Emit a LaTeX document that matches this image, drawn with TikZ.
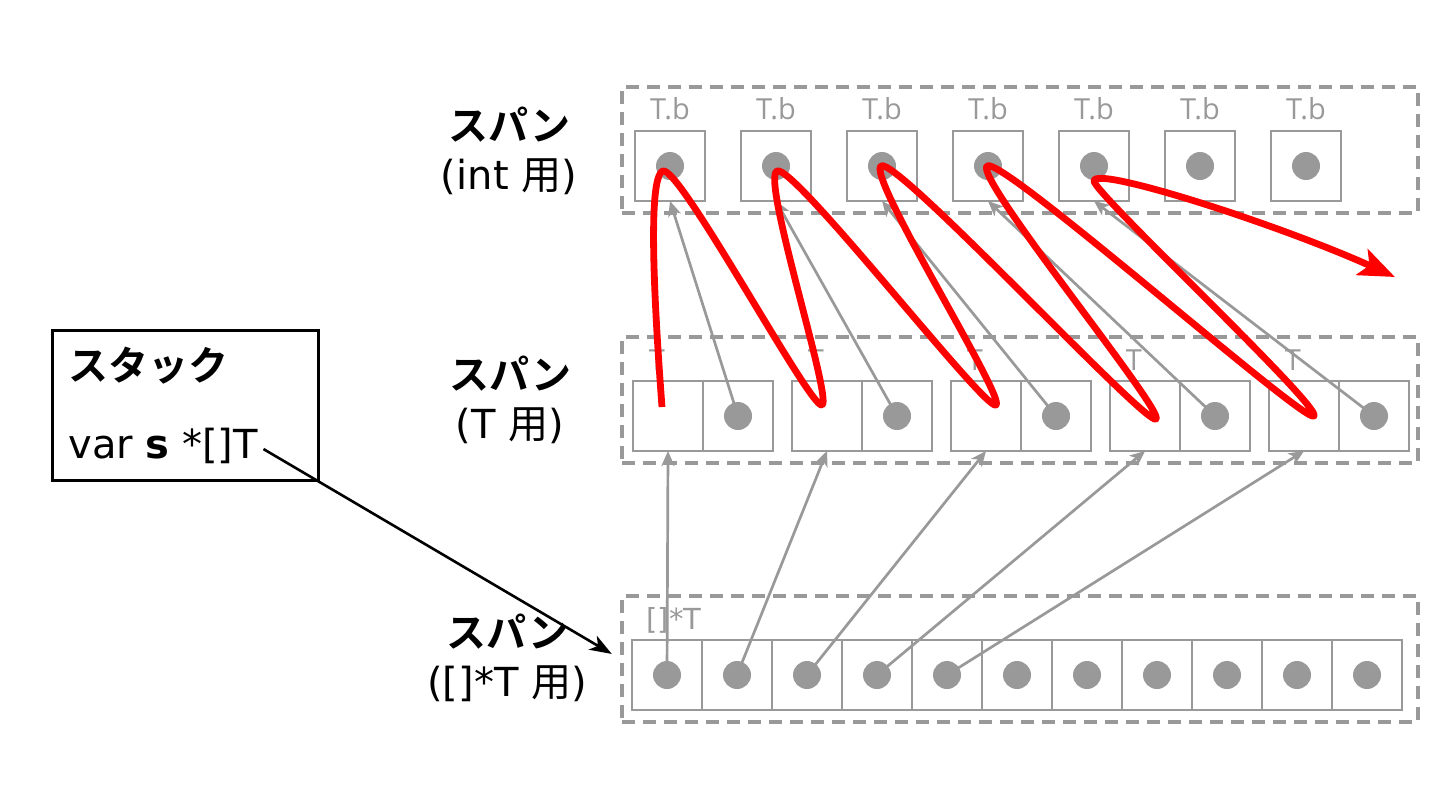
\documentclass[tikz,border=0pt]{standalone}
\usepackage{fontspec}
\usepackage{xcolor}
\usepackage{tikz}
\usetikzlibrary{arrows.meta,positioning,calc}
\setmainfont{DejaVu Sans}
\newfontfamily\jpfont{Noto Sans CJK JP}[BoldFont={Noto Sans CJK JP Bold}]
\newfontfamily\tagfont{Open Sans}
\definecolor{SpanGray}{HTML}{999999}
\definecolor{LoopRed}{HTML}{FF0000}

\begin{document}
\begin{tikzpicture}[x=.5pt,y=-.5pt,>=Stealth]
  \tikzset{
    cell/.style={draw=SpanGray,line width=1.4pt,minimum width=35pt,minimum height=35pt,inner sep=0pt,outer sep=0pt},
    spanbox/.style={draw=SpanGray,line width=1.6pt,dash pattern=on 6.5pt off 4pt,
      minimum width=398pt,minimum height=63pt,inner sep=0pt},
    spanlbl/.style={align=center,font=\fontsize{20}{24.5}\selectfont},
    celltag/.style={text=SpanGray,font=\tagfont\fontsize{14.5}{16}\selectfont,inner sep=0pt},
    bead/.style={fill=SpanGray},
    ptr/.style={draw=SpanGray,line width=1.35pt,-{Stealth[length=7.5pt,width=6.5pt,inset=2pt]}},
    redpath/.style={draw=LoopRed,line width=3.4pt,line join=round,-{Stealth[length=18pt,width=14pt,inset=4pt]}}
  }
  \useasboundingbox (0,0) rectangle (1440,810);

  \node[spanbox] (ispan) at (1020,150) {};
  \node[spanbox] (tspan) at (1020,400) {};
  \node[spanbox] (pspan) at (1020,659) {};

  \foreach \i in {1,...,7} {
    \node[cell] (i\i) at ({670+106*(\i-1)},166) {};
    \node[celltag] (ib\i) at ($(i\i)+(0,-57)$) {T.b};
  }
  \foreach \i in {1,...,5} {
    \node[cell] (ta\i) at ({668+159*(\i-1)},416) {};
    \node[cell] (tb\i) at ({738+159*(\i-1)},416) {};
    \node[celltag] (tt\i) at ($(ta\i)+(-11,-56)$) {T};
  }
  \foreach \i in {1,...,11}
    \node[cell] (p\i) at ({667+70*(\i-1)},675) {};
  \node[celltag,font=\fontsize{14.5}{16}\selectfont] (ptag) at (674,620) {[]*T};

  \node[spanlbl] (ilbl) at (509,151) {{\jpfont\bfseries スパン}\\(int {\jpfont 用})};
  \node[spanlbl] (tlbl) at (510,400) {{\jpfont\bfseries スパン}\\(T {\jpfont 用})};
  \node[spanlbl] (plbl) at (507,658) {{\jpfont\bfseries スパン}\\([]*T {\jpfont 用})};

  \node[draw=black,line width=1.5pt,minimum width=133pt,minimum height=75pt] (stack) at (185,405) {};
  \node[anchor=west,inner sep=0pt,font=\jpfont\bfseries\fontsize{20}{24}\selectfont] (stitle) at (68,366) {スタック};
  \node[anchor=west,inner sep=0pt,font=\fontsize{20}{24}\selectfont] (svar) at (68,446) {var \textbf{s} *[]T};

  \foreach \i in {1,...,5} {
    \draw[ptr] (p\i.center) -- (ta\i.south);
    \draw[ptr] (tb\i.center) -- (i\i.south);
  }
  \foreach \i in {1,...,7}
    \fill[bead] (i\i) circle[radius=7pt];
  \foreach \i in {1,...,5}
    \fill[bead] (tb\i) circle[radius=7pt];
  \foreach \i in {1,...,11}
    \fill[bead] (p\i) circle[radius=7pt];

  \coordinate (redend) at (1395,277);
  \draw[redpath] ($(ta1)+(-6,-9)$)
    .. controls +(-6,-80) and +(-17,5) .. ($(i1)+(-7,5)$)
    .. controls +(17,-5) and +(-11,5) .. ($(ta2)+(-5,-11)$)
    .. controls +(11,-5) and +(-16,8) .. ($(i2)+(1,5)$)
    .. controls +(16,-8) and +(-10,7) .. ($(ta3)+(10,-11)$)
    .. controls +(10,-7) and +(-14,11) .. ($(i3)+(-1,0)$)
    .. controls +(14,-11) and +(-9,8) .. ($(ta4)+(11,3)$)
    .. controls +(9,-8) and +(-13,12) .. ($(i4)+(-1,0)$)
    .. controls +(13,-12) and +(-8,9) .. ($(ta5)+(10,0)$)
    .. controls +(8,-9) and +(0,12) .. ($(i5)+(0,15)$)
    .. controls +(0,-16) and +(-115,-52) .. (redend);

  \draw[line width=1.3pt,-{Stealth[length=11pt,width=8pt,inset=3pt]},shorten <=3pt,shorten >=5pt]
    (svar.east) -- (pspan.west);
\end{tikzpicture}
\end{document}
